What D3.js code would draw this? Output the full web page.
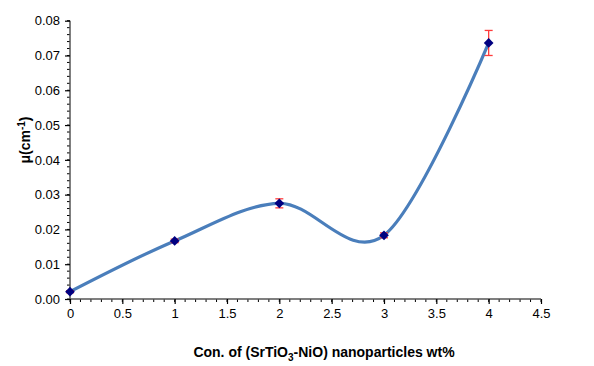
<!DOCTYPE html>
<html>
<head>
<meta charset="utf-8">
<script src="https://cdn.jsdelivr.net/npm/d3@7"></script>
<style>
  body { margin: 0; background: #fff; }
  svg { display: block; font-family: "Liberation Sans", Arial, sans-serif; }
</style>
</head>
<body>
<svg id="chart" width="594" height="366"></svg>
<script>
// ---------------------------------------------
// Data
// ---------------------------------------------
let concentrations = [0, 1, 2, 3, 4];
let muValues = [0.0021, 0.0167, 0.0275, 0.0183, 0.0736];
let muErrors = [0.0003, 0.0005, 0.0013, 0.0007, 0.0036];

let xTicks = [0, 0.5, 1, 1.5, 2, 2.5, 3, 3.5, 4, 4.5];
let yTicks = [0, 0.01, 0.02, 0.03, 0.04, 0.05, 0.06, 0.07, 0.08];

// ---------------------------------------------
// Layout
// ---------------------------------------------
let svg = d3.select('#chart');
let plotLeft = 70, plotRight = 541, plotTop = 20.7, plotBottom = 299;

let scaleX = d3.scaleLinear().domain([0, 4.5]).range([plotLeft, plotRight]);
let scaleY = d3.scaleLinear().domain([0, 0.08]).range([plotBottom, plotTop]);

let points = concentrations.map((c, i) => ({x: c, y: muValues[i], e: muErrors[i]}));

// Minor ticks (every 0.1 on x, every 0.002 on y)
let xMinor = d3.range(0, 4.5001, 0.1);
let yMinor = d3.range(0, 0.08001, 0.002);

let axisColor = '#000';

svg.append('g').selectAll('line').data(xMinor).join('line')
    .attr('x1', d => scaleX(d)).attr('x2', d => scaleX(d))
    .attr('y1', plotBottom).attr('y2', plotBottom + 3)
    .attr('stroke', axisColor).attr('stroke-width', 1);

svg.append('g').selectAll('line').data(yMinor).join('line')
    .attr('x1', plotLeft - 3).attr('x2', plotLeft)
    .attr('y1', d => scaleY(d)).attr('y2', d => scaleY(d))
    .attr('stroke', axisColor).attr('stroke-width', 1);

// Major axes via d3
let xAxis = d3.axisBottom(scaleX).tickValues(xTicks).tickSize(5).tickPadding(5)
    .tickFormat(d3.format('~g'));
let yAxis = d3.axisLeft(scaleY).tickValues(yTicks).tickSize(5).tickPadding(5)
    .tickFormat(d3.format('.2f'));

let gx = svg.append('g').attr('transform', `translate(0,${plotBottom})`).call(xAxis);
let gy = svg.append('g').attr('transform', `translate(${plotLeft},0)`).call(yAxis);

[gx, gy].forEach(g => {
  g.select('.domain').attr('stroke', '#555').attr('stroke-width', 1.5);
  g.selectAll('.tick line').attr('stroke', axisColor).attr('stroke-width', 1.2);
  g.selectAll('.tick text').attr('font-size', 13).attr('fill', '#000')
      .attr('font-family', '"Liberation Sans", Arial, sans-serif');
});
// Axis domain without end ticks
gx.select('.domain').attr('d', `M${plotLeft},0H${plotRight}`);
gy.select('.domain').attr('d', `M0,${plotTop}V${plotBottom}`);

// Smoothed line (Excel style)
let line = d3.line()
    .x(p => scaleX(p.x))
    .y(p => scaleY(p.y))
    .curve(d3.curveCardinal.tension(0));

svg.append('path').datum(points)
    .attr('d', line)
    .attr('fill', 'none')
    .attr('stroke', '#4a7ebb')
    .attr('stroke-width', 3.2);

// Error bars
let errG = svg.append('g').attr('stroke', '#ff3b3b').attr('stroke-width', 1.3);
errG.selectAll('line.bar').data(points).join('line').attr('class', 'bar')
    .attr('x1', p => scaleX(p.x)).attr('x2', p => scaleX(p.x))
    .attr('y1', p => scaleY(p.y - p.e)).attr('y2', p => scaleY(p.y + p.e));
errG.selectAll('line.capTop').data(points).join('line').attr('class', 'capTop')
    .attr('x1', p => scaleX(p.x) - 4).attr('x2', p => scaleX(p.x) + 4)
    .attr('y1', p => scaleY(p.y + p.e)).attr('y2', p => scaleY(p.y + p.e));
errG.selectAll('line.capBottom').data(points).join('line').attr('class', 'capBottom')
    .attr('x1', p => scaleX(p.x) - 4).attr('x2', p => scaleX(p.x) + 4)
    .attr('y1', p => scaleY(p.y - p.e)).attr('y2', p => scaleY(p.y - p.e));

// Diamond markers
svg.append('g').selectAll('path').data(points).join('path')
    .attr('d', d3.symbol(d3.symbolDiamond2, 60))
    .attr('transform', p => `translate(${scaleX(p.x)},${scaleY(p.y)})`)
    .attr('fill', '#000080');

// Axis titles
let xTitle = svg.append('text')
    .attr('x', 324).attr('y', 357)
    .attr('text-anchor', 'middle')
    .attr('font-size', 14).attr('font-weight', 'bold');
xTitle.append('tspan').text('Con. of (SrTiO');
xTitle.append('tspan').attr('font-size', 10).attr('dy', 4).text('3');
xTitle.append('tspan').attr('dy', -4).text('-NiO) nanoparticles wt%');

let yTitle = svg.append('text')
    .attr('transform', 'translate(30,140) rotate(-90)')
    .attr('text-anchor', 'middle')
    .attr('font-size', 14).attr('font-weight', 'bold');
yTitle.append('tspan').text('μ(cm');
yTitle.append('tspan').attr('font-size', 10).attr('dy', -5).text('-1');
yTitle.append('tspan').attr('dy', 5).text(')');
</script>
</body>
</html>
